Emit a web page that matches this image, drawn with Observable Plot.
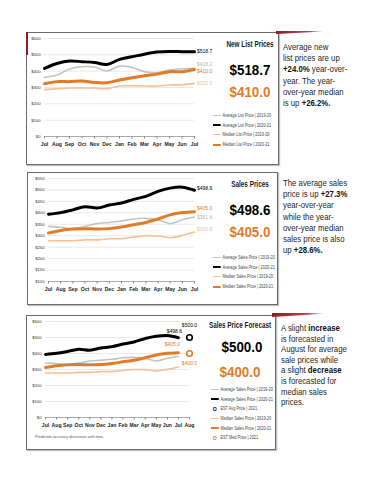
<!DOCTYPE html>
<html>
<head>
<meta charset="utf-8">
<script src="https://cdn.jsdelivr.net/npm/d3@7"></script>
<script src="https://cdn.jsdelivr.net/npm/@observablehq/plot@0.6"></script>
<style>
  html, body { margin:0; padding:0; background:#fff; }
  body { width:370px; height:480px; position:relative; overflow:hidden; font-family:"Liberation Sans",Arial,sans-serif; }
  .box { position:absolute; border:1.3px solid #6a6a6a; box-sizing:border-box; background:#fff; box-shadow:1px 1px 1px rgba(0,0,0,0.25); }
  .plot { position:absolute; }
  .title { position:absolute; font-weight:bold; font-size:8.6px; line-height:10px; color:#1a1a1a; text-align:center; width:90px; white-space:nowrap; transform:scaleX(0.74); transform-origin:50% 50%; }
  .big { position:absolute; font-weight:bold; font-size:14.5px; line-height:16px; text-align:center; width:80px; white-space:nowrap; transform:scaleX(0.92); transform-origin:50% 50%; }
  .legend { position:absolute; font-size:4.5px; color:#444; white-space:nowrap; transform:scaleX(0.86); transform-origin:0 0; }
  .legend div { height:9.6px; display:flex; align-items:center; }
  .legend .sw { display:inline-block; width:9px; margin-right:2px; }
  .legend .o { display:inline-block; width:9px; margin-right:2px; font-weight:bold; font-size:6px; text-align:center; }
  .side { position:absolute; font-size:9.5px; line-height:11.2px; color:#262626; white-space:nowrap; transform:scaleX(0.82); transform-origin:0 0; }
  .side b { font-weight:bold; color:#111; }
  .caption { position:absolute; font-size:3.8px; color:#555; white-space:nowrap; }
  .plot text { font-family:"Liberation Sans",Arial,sans-serif; }
  .plot g[aria-label="x-axis tick label"] { font-size:5.1px; font-weight:bold; fill:#222; }
  .plot g[aria-label="y-axis tick label"] { font-size:4.2px; fill:#333; }
  .accent { position:absolute; }
</style>
</head>
<body>
<script>
// ---------- data ----------
const months = ["Jul","Aug","Sep","Oct","Nov","Dec","Jan","Feb","Mar","Apr","May","Jun","Jul"];
const forecastMonths = ["Jul","Aug","Sep","Oct","Nov","Dec","Jan","Feb","Mar","Apr","May","Jun","Jul","Aug"];

// New list prices
const avgList1920 = [362, 376, 413, 427, 425, 401, 431, 423, 397, 390, 407, 415, 418.2];
const avgList2021 = [417, 447, 462, 458, 453, 441, 472, 488, 504, 517, 521, 519, 518.7];
const medList1920 = [287, 293, 297, 297, 297, 293, 309, 311, 309, 309, 315, 317, 325.0];
const medList2021 = [323, 336, 336, 340, 331, 329, 346, 360, 372, 382, 397, 397, 410.0];

// Sales prices
const avgSales1920 = [341, 337, 330, 341, 353, 358, 364, 373, 376, 370, 353, 370, 381.6];
const avgSales2021 = [394, 401, 413, 427, 421, 434, 443, 459, 472, 494, 508, 512, 498.6];
const medSales1920 = [278, 278, 278, 282, 282, 287, 287, 294, 300, 299, 291, 301, 315.8];
const medSales2021 = [312, 323, 329, 331, 329, 331, 338, 348, 358, 373, 391, 401, 405.0];

// Forecast (August 2021)
const estAvgPrice = 500.0;
const estMedPrice = 400.0;

const yTicksList = [0, 100, 200, 300, 400, 500, 600];
const yTicksSales = [100, 150, 200, 250, 300, 350, 400, 450, 500, 550];
const yTicksForecast = [0, 100, 200, 300, 400, 500, 600];

// ---------- styles ----------
const C = {gray:"#c3c3c3", black:"#000000", lorange:"#f6c095", orange:"#e27a26"};
const toRows = vals => vals.map((v, i) => ({i, v}));

function lineMarks(a1920, a2021, m1920, m2021) {
  const o = {x:"i", y:"v", curve:"catmull-rom"};
  return [
    Plot.line(toRows(a1920), {...o, stroke:C.gray, strokeWidth:1.6}),
    Plot.line(toRows(m1920), {...o, stroke:C.lorange, strokeWidth:1.6}),
    Plot.line(toRows(m2021), {...o, stroke:C.orange, strokeWidth:3}),
    Plot.line(toRows(a2021), {...o, stroke:C.black, strokeWidth:3})
  ];
}

function axes(labels, yTicks, yDomain) {
  return [
    Plot.gridY(yTicks, {stroke:"#e3e3e3", strokeOpacity:1, strokeWidth:0.8}),
    Plot.ruleY([yDomain[0]], {stroke:"#9a9a9a", strokeWidth:0.8}),
    Plot.axisY(yTicks, {tickSize:0, tickPadding:4, tickFormat:d => "$" + d, label:null}),
    Plot.axisX(d3.range(labels.length), {tickSize:2.5, tickPadding:3.5, stroke:"#888", tickFormat:i => labels[i], label:null})
  ];
}

function place(svg, id, left, top) {
  svg.classList.add("plot");
  svg.id = id;
  svg.style.left = left + "px";
  svg.style.top = top + "px";
  svg.style.overflow = "visible";
  svg.style.background = "transparent";
  document.body.appendChild(svg);
}

function addBox(l, t, w, h) {
  const d = document.createElement("div");
  d.className = "box";
  Object.assign(d.style, {left:l+"px", top:t+"px", width:w+"px", height:h+"px"});
  document.body.appendChild(d);
}
function addHTML(cls, l, t, html, extra = {}) {
  const d = document.createElement("div");
  d.className = cls;
  d.innerHTML = html;
  Object.assign(d.style, {left:l+"px", top:t+"px"}, extra);
  document.body.appendChild(d);
  return d;
}
// centered text helper: cx = center x, cy = center y
function addCentered(cls, cx, cy, html, w, lh, extra = {}) {
  return addHTML(cls, cx - w / 2, cy - lh / 2, html, {width:w+"px", ...extra});
}
function legendHTML(items) {
  return items.map(it => it.circle
    ? `<div><span class="o" style="color:${it.color}">O</span>${it.label}</div>`
    : `<div><span class="sw" style="border-top:${it.w}px solid ${it.color}"></span>${it.label}</div>`).join("");
}
function endLabel(val, color, dy, dx = 2.5, anchor = "start", xi = 12) {
  return Plot.text([{i:xi, v:val}], {x:"i", y:"v", text:d => "$" + d.v.toFixed(1), fill:color, fontSize:5, dx, dy, textAnchor:anchor});
}

// ---------- boxes ----------
addBox(26, 32, 253, 133);
addBox(27, 172, 251, 133);
addBox(26, 315, 250, 135);

// accents
addHTML("accent", 26, 32, "", {width:"1.6px", height:"23px", background:"#8c1d24"});
addHTML("accent", 276, 31, "", {width:"48px", height:"3px", background:"linear-gradient(90deg,#8c1d24,#b34a4f 70%,rgba(255,255,255,0))", clipPath:"polygon(0 0,100% 0,100% 20%,0 100%)"});
addHTML("accent", 272, 313, "", {width:"52px", height:"4px", background:"linear-gradient(90deg,#8c1d24,#b34a4f 70%,rgba(255,255,255,0))", clipPath:"polygon(0 0,100% 0,100% 20%,0 100%)"});

// ---------- panel 1: New List Prices ----------
const p1 = Plot.plot({
  width:192, height:124, marginLeft:18, marginRight:24, marginTop:6, marginBottom:20,
  x:{domain:[0,12]}, y:{domain:[0,600]},
  marks:[
    ...axes(months, yTicksList, [0,600]),
    ...lineMarks(avgList1920, avgList2021, medList1920, medList2021),
    endLabel(avgList2021[12], "#000", 0),
    endLabel(avgList1920[12], "#b5b5b5", -4),
    endLabel(medList2021[12], C.orange, 1.5),
    endLabel(medList1920[12], C.lorange, 0)
  ]
});
place(p1, "p1", 26, 32);
addCentered("title", 250, 44, "New List Prices", 90, 10);
addCentered("big", 250, 70, "$518.7", 80, 16, {color:"#000"});
addCentered("big", 250, 92, "$410.0", 80, 16, {color:C.orange});
addHTML("legend", 213, 111, legendHTML([
  {label:"Average List Price | 2019-20", color:C.gray, w:1.2},
  {label:"Average List Price | 2020-21", color:C.black, w:2.2},
  {label:"Median List Price | 2019-20", color:C.lorange, w:1.2},
  {label:"Median List Price | 2020-21", color:C.orange, w:2.2}
]));
addHTML("side", 283, 41, "Average new<br>list prices are up<br><b>+24.0%</b> year-over-<br>year. The year-<br>over-year median<br>is up <b>+26.2%.</b>");

// ---------- panel 2: Sales Prices ----------
const p2 = Plot.plot({
  width:192, height:129, marginLeft:22, marginRight:24, marginTop:6, marginBottom:20,
  x:{domain:[0,12]}, y:{domain:[100,550]},
  marks:[
    ...axes(months, yTicksSales, [100,550]),
    ...lineMarks(avgSales1920, avgSales2021, medSales1920, medSales2021),
    endLabel(avgSales2021[12], "#000", -2),
    endLabel(medSales2021[12], C.orange, -3),
    endLabel(avgSales1920[12], "#b5b5b5", 0),
    endLabel(medSales1920[12], C.lorange, -3)
  ]
});
place(p2, "p2", 26, 172);
addCentered("title", 250, 184, "Sales Prices", 90, 10);
addCentered("big", 250, 210, "$498.6", 80, 16, {color:"#000"});
addCentered("big", 250, 232, "$405.0", 80, 16, {color:C.orange});
addHTML("legend", 213, 253, legendHTML([
  {label:"Average Sales Price | 2019-20", color:C.gray, w:1.2},
  {label:"Average Sales Price | 2020-21", color:C.black, w:2.2},
  {label:"Median Sales Price | 2019-20", color:C.lorange, w:1.2},
  {label:"Median Sales Price | 2020-21", color:C.orange, w:2.2}
]));
addHTML("side", 283, 177, "The average sales<br>price is up <b>+27.3%</b><br>year-over-year<br>while the year-<br>over-year median<br>sales price is also<br>up <b>+28.6%.</b>");

// ---------- panel 3: Sales Price Forecast ----------
const p3 = Plot.plot({
  width:185, height:122, marginLeft:19, marginRight:22, marginTop:6, marginBottom:20,
  x:{domain:[0,13]}, y:{domain:[0,600]},
  marks:[
    ...axes(forecastMonths, yTicksForecast, [0,600]),
    ...lineMarks(avgSales1920, avgSales2021, medSales1920, medSales2021),
    Plot.dot([{i:13, v:estAvgPrice}], {x:"i", y:"v", r:2.8, stroke:"#000", strokeWidth:1.6, fill:"none"}),
    Plot.dot([{i:13, v:estMedPrice}], {x:"i", y:"v", r:2.8, stroke:C.orange, strokeWidth:1.6, fill:"none"}),
    endLabel(avgSales2021[12], "#000", -6, -4, "middle"),
    endLabel(estAvgPrice, "#000", -12, 0, "middle", 13),
    endLabel(medSales2021[12], C.orange, -8, -6, "middle"),
    endLabel(estMedPrice, C.orange, 10, 0, "middle", 13)
  ]
});
place(p3, "p3", 26, 315);
addHTML("caption", 35, 435, "Prediction accuracy decreases with time.");
addCentered("title", 240, 325, "Sales Price Forecast", 90, 10);
addCentered("big", 242, 347, "$500.0", 80, 16, {color:"#000"});
addCentered("big", 240, 372, "$400.0", 80, 16, {color:C.orange});
addHTML("legend", 211, 385, legendHTML([
  {label:"Average Sales Price | 2019-20", color:C.gray, w:1.2},
  {label:"Average Sales Price | 2020-21", color:C.black, w:2.2},
  {label:"EST Avg Price | 2021", color:"#000", circle:true},
  {label:"Median Sales Price | 2019-20", color:C.lorange, w:1.2},
  {label:"Median Sales Price | 2020-21", color:C.orange, w:2.2},
  {label:"EST Med Price | 2021", color:C.orange, circle:true}
]));
addHTML("side", 281, 323, "A slight <b>increase</b><br>is forecasted in<br>August for average<br>sale prices while<br>a slight <b>decrease</b><br>is forecasted for<br>median sales<br>prices.", {lineHeight:"10.6px"});
</script>
</body>
</html>
